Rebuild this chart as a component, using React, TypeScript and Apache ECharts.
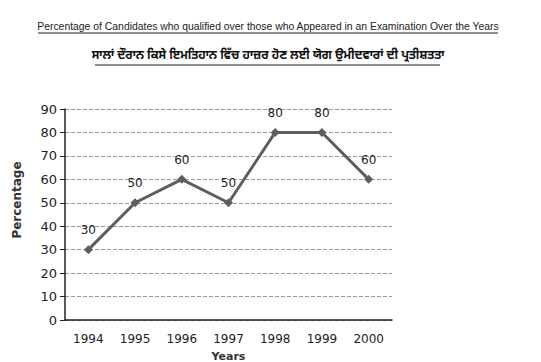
import React, { useEffect, useRef } from "react";
import * as echarts from "echarts";

const titleText =
  "Percentage of Candidates who qualified over those who Appeared in an Examination Over the Years";
const subtitleText =
  "ਸਾਲਾਂ ਦੌਰਾਨ ਕਿਸੇ ਇਮਤਿਹਾਨ ਵਿੱਚ ਹਾਜ਼ਰ ਹੋਣ ਲਈ ਯੋਗ ਉਮੀਦਵਾਰਾਂ ਦੀ ਪ੍ਰਤੀਸ਼ਤਤਾ";
const years = ["1994", "1995", "1996", "1997", "1998", "1999", "2000"];
const percentages = [30, 50, 60, 50, 80, 80, 60];
const yAxisName = "Percentage";
const xAxisName = "Years";

export default function App() {
  const ref = useRef<HTMLDivElement>(null);
  useEffect(() => {
    if (!ref.current) return;
    const chart = echarts.init(ref.current, undefined, { renderer: "svg" });
    const font = "DejaVu Sans, Verdana, sans-serif";
    chart.setOption({
      animation: false,
      backgroundColor: "#ffffff",
      grid: { left: 65, top: 109, right: 149, bottom: 42, outerBoundsMode: "none", containLabel: false },
      xAxis: {
        type: "category",
        data: years,
        boundaryGap: true,
        name: xAxisName,
        nameLocation: "middle",
        nameGap: 31,
        nameTextStyle: { fontFamily: font, fontSize: 11, fontWeight: "bold", color: "#333" },
        axisLine: { lineStyle: { color: "#222", width: 1.5 } },
        axisTick: { alignWithLabel: true, length: 4, lineStyle: { color: "#222" } },
        axisLabel: { fontFamily: font, fontSize: 12, color: "#222", margin: 13 },
      },
      yAxis: {
        type: "value",
        min: 0,
        max: 90,
        interval: 10,
        axisLine: { show: true, lineStyle: { color: "#222", width: 1.5 } },
        axisTick: { show: true, length: 5, lineStyle: { color: "#222" } },
        axisLabel: { fontFamily: font, fontSize: 13, color: "#222", margin: 8 },
        splitLine: { lineStyle: { color: "#999", type: [4, 2], width: 1 } },
      },
      series: [
        {
          type: "line",
          data: percentages,
          symbol: "diamond",
          symbolSize: 9,
          itemStyle: { color: "#5e5e5e" },
          lineStyle: { color: "#5e5e5e", width: 3 },
          label: {
            show: true,
            position: "top",
            distance: 9,
            fontFamily: font,
            fontSize: 12,
            color: "#222",
          },
        },
      ],
      graphic: [
        {
          type: "text",
          x: 268,
          y: 26,
          style: {
            text: titleText,
            font: "10.4px 'Liberation Sans', Arial, sans-serif",
            fill: "#222",
            align: "center",
            verticalAlign: "middle",
          },
        },
        {
          type: "line",
          shape: { x1: 38, y1: 33, x2: 498, y2: 33 },
          style: { stroke: "#222", lineWidth: 1 },
        },
        {
          type: "text",
          x: 268,
          y: 56,
          style: {
            text: subtitleText,
            font: "bold 12px 'Noto Sans Gurmukhi', 'Noto Sans', sans-serif",
            fill: "#111",
            align: "center",
            verticalAlign: "middle",
          },
        },
        {
          type: "line",
          shape: { x1: 95, y1: 65, x2: 440, y2: 65 },
          style: { stroke: "#222", lineWidth: 1 },
        },
        {
          type: "text",
          x: 17,
          y: 200,
          rotation: Math.PI / 2,
          style: {
            text: yAxisName,
            font: "bold 12px 'DejaVu Sans', Verdana, sans-serif",
            fill: "#333",
            align: "center",
            verticalAlign: "middle",
          },
        },
      ],
    });
    return () => chart.dispose();
  }, []);
  return (
    <div
      ref={ref}
      style={{ position: "fixed", left: 0, top: 0, width: 541, height: 362 }}
    />
  );
}
